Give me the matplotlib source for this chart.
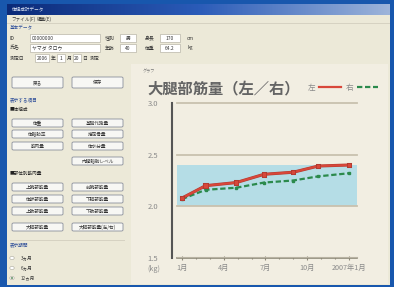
import matplotlib
matplotlib.use("Agg")
import matplotlib.pyplot as plt
import numpy as np
from matplotlib.patches import Rectangle, FancyBboxPatch, Circle
from matplotlib.colors import LinearSegmentedColormap
import matplotlib.patheffects as pe

plt.rcParams['font.family'] = ['Noto Sans CJK JP', 'DejaVu Sans']

# ---------------- data ----------------
title = "大腿部筋量（左／右）"
months = [0, 1.7, 3.9, 5.9, 8.0, 9.8, 12.0]          # months since Jan 2006
left_vals = [2.08, 2.20, 2.23, 2.31, 2.33, 2.39, 2.40]
right_vals = [2.07, 2.16, 2.18, 2.23, 2.25, 2.29, 2.32]
series_names = ["左", "右"]
xtick_pos = [0, 3, 6, 9, 12]
xtick_labels = ["1月", "4月", "7月", "10月", "2007年1月"]
ytick_pos = [1.5, 2.0, 2.5, 3.0]
ytick_labels = ["1.5", "2.0", "2.5", "3.0"]
band_low, band_high = 2.0, 2.4
unit_label = "(kg)"

W, H = 394, 287
fig = plt.figure(figsize=(W / 100, H / 100), dpi=100)
fig.patch.set_facecolor('#1857ad')


def box(x, y, w, h):
    return (x / W, 1 - (y + h) / H)


def rect(x, y, w, h, fc, ec='none', lw=0.5, z=1):
    fig.patches.append(Rectangle(box(x, y, w, h), w / W, h / H, transform=fig.transFigure,
                                 facecolor=fc, edgecolor=ec, linewidth=lw, zorder=z))


def button(x, y, w, h, label):
    fig.patches.append(FancyBboxPatch(box(x, y, w, h), w / W, h / H,
                                      boxstyle="round,pad=0,rounding_size=0.004",
                                      transform=fig.transFigure, facecolor='#f7f7f4',
                                      edgecolor='#8a8f9c', linewidth=0.6, zorder=3))
    fig.text((x + w / 2) / W, 1 - (y + h / 2) / H, label, fontsize=3.3, color='#333333',
             ha='center', va='center', zorder=4)


def label(x, y, s, size=3.5, color='#333333', ha='left'):
    fig.text(x / W, 1 - y / H, s, fontsize=size, color=color, ha=ha, va='center', zorder=6)


# window
rect(7, 4, 383, 281, '#ece9d8')
# title bar gradient
tb = fig.add_axes([7 / W, 1 - 15 / H, 383 / W, 11 / H])
tb.set_zorder(5)
grad = np.linspace(0, 1, 256).reshape(1, -1)
cm = LinearSegmentedColormap.from_list('tb', ['#0b2a78', '#2a5bb8', '#9db4da'])
tb.imshow(grad, aspect='auto', cmap=cm)
tb.set_axis_off()
label(12, 9.5, "体組成計データ", size=3.3, color='#dde6f5')
# menu
label(11, 19, "ファイル(F)", size=3.3)
label(37, 19, "編集(E)", size=3.3)
rect(7, 23, 383, 0.6, '#d6d2c2')
# form
label(10, 28, "基本データ", size=3.3, color='#2f4f9a')
rows = [(38, "ID", "00000000", "性別", "男", "身長", "170", "cm"),
        (48, "氏名", "ヤマダ タロウ", "年齢", "40", "体重", "64.2", "kg")]
for y, l1, v1, l2, v2, l3, v3, u in rows:
    label(10, y, l1)
    rect(30, y - 4, 70, 8, '#ffffff', '#b9b6a8')
    label(32, y, v1)
    label(105, y, l2)
    rect(120, y - 4, 16, 8, '#ffffff', '#b9b6a8')
    label(128, y, v2, ha='center')
    label(145, y, l3)
    rect(160, y - 4, 20, 8, '#ffffff', '#b9b6a8')
    label(170, y, v3, ha='center')
    label(187, y, u)
label(10, 58, "測定日")
for xx, ww, v, lab in [(35, 14, "2006", "年"), (57, 8, "1", "月"), (73, 8, "20", "日")]:
    rect(xx, 54, ww, 8, '#ffffff', '#b9b6a8')
    label(xx + ww / 2, 58, v, ha='center')
    label(xx + ww + 1.5, 58, lab)
label(90, 58, "測定")

# chart panel
rect(131, 64, 257, 220, '#f2eee2')
label(143, 71, "グラフ", size=3.0, color='#777777')

# left panel
button(12, 77, 51, 11, "戻る")
button(72, 77, 51, 11, "保存")
label(10, 100, "表示する項目", size=3.3, color='#2f4f9a')
label(10, 109, "■体組成", size=3.3, color='#222222')
left_btns = [(119, "体重", "基礎代謝量"), (130, "体脂肪率", "推定骨量"),
             (142, "筋肉量", "体水分量"), (157, None, "内臓脂肪レベル")]
for y, a, b in left_btns:
    if a:
        button(12, y, 51, 8, a)
    button(72, y, 51, 8, b)
label(10, 173, "■部位別筋肉量", size=3.3, color='#222222')
part_btns = [(183, "上腕部筋量", "前腕部筋量"), (195, "体幹部筋量", "下腿部筋量"),
             (207, "上肢部筋量", "下肢部筋量"), (223, "大腿部筋量", "大腿部筋量(左/右)")]
for y, a, b in part_btns:
    button(12, y, 51, 8, a)
    button(72, y, 51, 8, b)
rect(10, 240, 115, 0.6, '#d6d2c2')
label(10, 245, "表示期間", size=3.3, color='#2f4f9a')
for i, (y, s) in enumerate([(258, "3ヵ月"), (268, "6ヵ月"), (278, "12ヵ月")]):
    fig.patches.append(Circle((12 / W, 1 - y / H), 2.2 / W, transform=fig.transFigure,
                              facecolor='#ffffff', edgecolor='#a8a69a', linewidth=0.4, zorder=3))
    if i == 2:
        fig.patches.append(Circle((12 / W, 1 - y / H), 1.0 / W, transform=fig.transFigure,
                                  facecolor='#2a6a2a', edgecolor='none', zorder=4))
    label(21, y, s, size=3.3)

# ---------------- chart ----------------
ax_l, ax_r, ax_t, ax_b = 172, 357, 103, 258
ax = fig.add_axes([ax_l / W, 1 - ax_b / H, (ax_r - ax_l) / W, (ax_b - ax_t) / H])
ax.set_zorder(10)
ax.set_facecolor('none')
px_per_month = 13.9
ax.set_xlim((ax_l - 182) / px_per_month, (ax_r - 182) / px_per_month)
ax.set_ylim(1.5, 3.0)
gx = 5 / (ax_r - ax_l)

ax.axhspan(band_low, band_high, xmin=gx, xmax=1, color='#b5dde6', zorder=1, lw=0)
for yv in [2.0, 2.5, 3.0]:
    ax.axhline(yv, xmin=gx, xmax=1, color='#c9c1ae', lw=1.3, zorder=2, clip_on=False)
ax.axhline(1.5, xmin=gx, xmax=1, color='#8d8878', lw=1.2, zorder=2, clip_on=False)
ax.axhline(1.5 + 0.013, xmin=gx, xmax=1, color='#b8b2a2', lw=0.8, zorder=2, clip_on=False)

red = '#d8473a'
green = '#2b8a4c'
ax.plot(months, left_vals, color=red, lw=1.5, marker='s', ms=1.8, zorder=5,
        path_effects=[pe.Stroke(linewidth=2.2, foreground='#b03a30'), pe.Normal()])
ax.plot(months, right_vals, color=green, lw=1.6, ls=(0, (2.4, 1.2)), marker='s', ms=1.8, zorder=4)

for s in ['top', 'right', 'bottom']:
    ax.spines[s].set_visible(False)
ax.spines['left'].set_color('#555555')
ax.spines['left'].set_linewidth(1.5)

ax.set_yticks(ytick_pos)
ax.set_yticklabels(ytick_labels)
ax.tick_params(axis='y', length=0, pad=10, labelsize=5.5, labelcolor='#8a8a8a')
ax.set_xticks(xtick_pos)
ax.set_xticklabels(xtick_labels)
ax.set_xticks(np.arange(0, 13, 1), minor=True)
ax.tick_params(axis='x', which='both', direction='inout', length=3, width=0.8, color='#8d8878',
               labelsize=5.2, labelcolor='#8a8a8a', pad=3)
ax.tick_params(axis='x', which='minor', length=2)
fig.text(147 / W, 1 - 269 / H, unit_label, fontsize=5.2, color='#8a8a8a', va='center', zorder=6)

fig.text(147 / W, 1 - 88 / H, title, fontsize=11, color='#646464', fontweight='bold',
         va='center', ha='left', zorder=6)

# legend (text first, then line sample)
from matplotlib.lines import Line2D
handles = [Line2D([], [], color=red, lw=1.6), Line2D([], [], color=green, lw=1.6, ls=(0, (2.4, 1.2)))]
leg = ax.legend(handles, series_names, loc='center left', bbox_to_anchor=(308 / W, 1 - 88 / H),
                bbox_transform=fig.transFigure, ncol=2, markerfirst=False, frameon=False,
                fontsize=5.5, handlelength=2.8, handletextpad=0.5, columnspacing=0.6,
                borderaxespad=0, borderpad=0, labelcolor='#8a8a8a')

fig.savefig('out.png', dpi=100, facecolor=fig.get_facecolor())
